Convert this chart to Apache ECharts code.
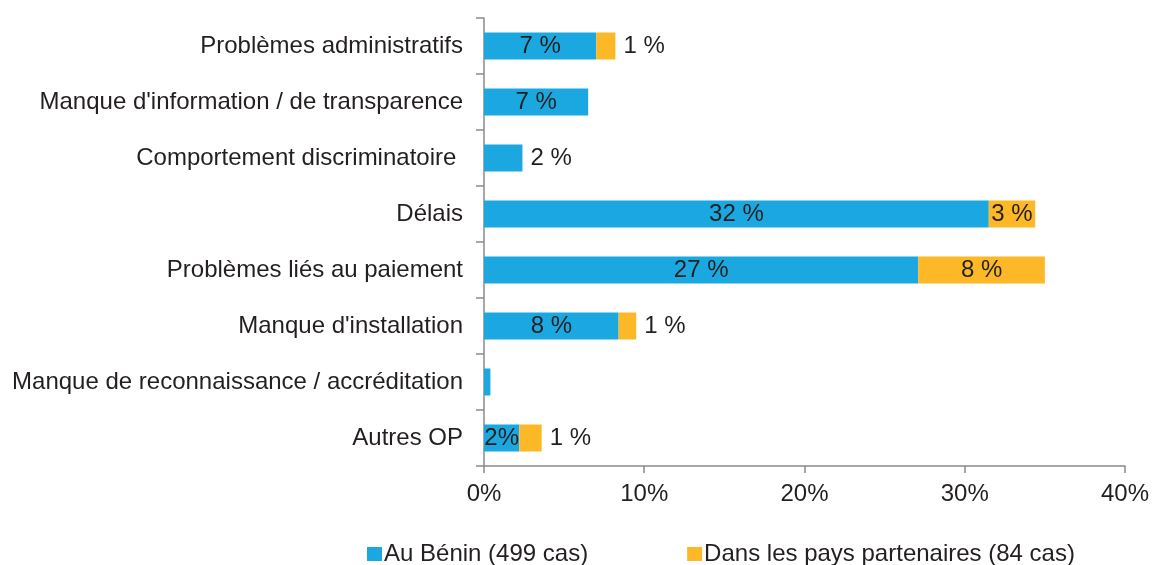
<!DOCTYPE html>
<html>
<head>
<meta charset="utf-8">
<script src="https://cdn.jsdelivr.net/npm/echarts@6/dist/echarts.min.js"></script>
<style>
html, body { margin: 0; padding: 0; background: #fff; }
#chart { width: 1152px; height: 565px; }
</style>
</head>
<body>
<div id="chart"></div>
<script>
// catégories (de haut en bas)
var categories = [
    'Problèmes administratifs',
    "Manque d'information / de transparence",
    'Comportement discriminatoire ',
    'Délais',
    'Problèmes liés au paiement',
    "Manque d'installation",
    'Manque de reconnaissance / accréditation',
    'Autres OP'
];
var seriesNames = ['Au Bénin (499 cas)', 'Dans les pays partenaires (84 cas)'];
// valeurs en %
var beninValues = [7.0, 6.5, 2.4, 31.5, 27.1, 8.4, 0.4, 2.2];
var partenairesValues = [1.2, 0, 0, 2.9, 7.9, 1.1, 0, 1.4];
// étiquettes affichées
var beninLabels = ['7 %', '7 %', '2 %', '32 %', '27 %', '8 %', '', '2%'];
var partenairesLabels = ['1 %', '', '', '3 %', '8 %', '1 %', '', '1 %'];
var xTicks = [0, 10, 20, 30, 40];

var textColor = '#231f20';
var fontName = 'Liberation Sans, Arial';

function buildData(values, labels, other) {
    var out = [];
    for (var i = 0; i < values.length; i++) {
        // petite barre seule ou segment étroit : étiquette à droite
        var outside = (other && other[i] === 0 && values[i] < 3) || (!other && values[i] < 2);
        out.push({
            value: values[i],
            label: {
                show: labels[i] !== '',
                position: outside ? 'right' : 'inside',
                distance: outside ? 8 : 5,
                formatter: labels[i]
            }
        });
    }
    return out;
}

var chart = echarts.init(document.getElementById('chart'), null, { renderer: 'canvas' });
var option = {
    animation: false,
    textStyle: { fontFamily: fontName, color: textColor },
    grid: { left: 484, right: 25, top: 18, bottom: 99, containLabel: false },
    legend: {
        left: 362,
        top: 537,
        icon: 'rect',
        itemWidth: 15,
        itemHeight: 14,
        itemGap: 99,
        textStyle: { fontFamily: fontName, fontSize: 24, color: textColor, padding: [0, 0, 0, -3] },
        data: seriesNames
    },
    xAxis: {
        type: 'value',
        min: xTicks[0],
        max: xTicks[xTicks.length - 1],
        interval: 10,
        splitLine: { show: false },
        axisLine: { show: true, lineStyle: { color: '#8a8a8a', width: 1.5 } },
        axisTick: { show: true, length: 7, lineStyle: { color: '#8a8a8a', width: 1.5 } },
        axisLabel: { margin: 16, formatter: '{value}%', fontFamily: fontName, fontSize: 24, color: textColor }
    },
    yAxis: {
        type: 'category',
        inverse: true,
        data: categories,
        axisLine: { show: true, lineStyle: { color: '#8a8a8a', width: 1.5 } },
        axisTick: { show: true, length: 8, lineStyle: { color: '#8a8a8a', width: 1.5 } },
        axisLabel: { margin: 21, fontFamily: fontName, fontSize: 24, color: textColor }
    },
    series: [
        {
            name: seriesNames[0],
            type: 'bar',
            stack: 'total',
            barWidth: 27,
            itemStyle: { color: '#1ba8e0' },
            label: { fontFamily: fontName, fontSize: 24, color: textColor },
            data: buildData(beninValues, beninLabels, partenairesValues)
        },
        {
            name: seriesNames[1],
            type: 'bar',
            stack: 'total',
            barWidth: 27,
            itemStyle: { color: '#fdb827' },
            label: { fontFamily: fontName, fontSize: 24, color: textColor },
            data: buildData(partenairesValues, partenairesLabels, null)
        }
    ]
};
chart.setOption(option);
</script>
</body>
</html>
